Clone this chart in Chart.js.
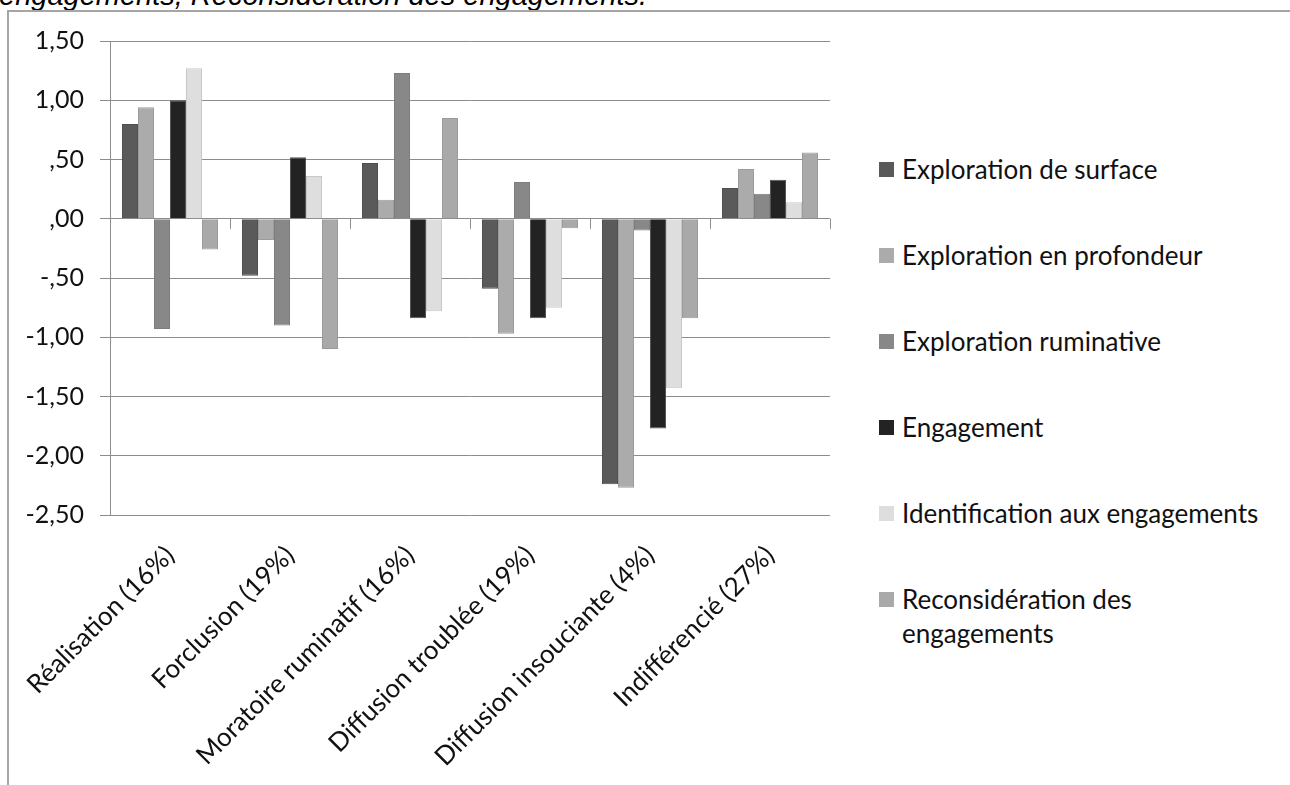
<!DOCTYPE html>
<html>
<head>
<meta charset="utf-8">
<script src="https://cdn.jsdelivr.net/npm/chart.js@4"></script>
<style>
  html, body { margin: 0; padding: 0; background: #fff; overflow: hidden; }
  body { width: 1290px; height: 785px; position: relative; font-family: Lato, "Open Sans", sans-serif; }
  #caption { position: absolute; left: -1px; top: -19px; font: italic 29px "Liberation Sans", Arial, sans-serif; line-height: 29px; color: #000; white-space: nowrap; }
  #cadre { position: absolute; left: 7px; top: 10px; right: -5px; bottom: -5px; border-top: 2px solid #a6a6a6; border-left: 2px solid #a6a6a6; pointer-events: none; }
  #zone { position: absolute; left: 0; top: 0; width: 850px; height: 785px; }
  #legende { position: absolute; left: 879px; top: 152px; margin: 0; padding: 0; list-style: none; }
  #legende li { display: flex; align-items: flex-start; height: 86px; font-size: 26px; line-height: 34px; color: #111; }
  #legende .carre { width: 15px; height: 15px; margin-top: 10px; margin-right: 8px; flex: none; }
  #legende .txt { width: 372px; }
</style>
</head>
<body>
<div id="caption">engagements, Reconsidération des engagements.</div>
<div id="cadre"></div>
<div id="zone"><canvas id="graphe"></canvas></div>
<ul id="legende"></ul>
<script>
// données
var categories = ['Réalisation (16%)', 'Forclusion (19%)', 'Moratoire ruminatif (16%)', 'Diffusion troublée (19%)', 'Diffusion insouciante (4%)', 'Indifférencié (27%)'];
var series = ['Exploration de surface', 'Exploration en profondeur', 'Exploration ruminative', 'Engagement', 'Identification aux engagements', 'Reconsidération des engagements'];
var explorationSurface = [0.80, -0.48, 0.47, -0.59, -2.24, 0.26];
var explorationProfondeur = [0.94, -0.18, 0.16, -0.97, -2.27, 0.42];
var explorationRuminative = [-0.93, -0.90, 1.23, 0.31, -0.10, 0.21];
var engagement = [1.00, 0.52, -0.84, -0.84, -1.77, 0.33];
var identification = [1.27, 0.36, -0.78, -0.75, -1.43, 0.14];
var reconsideration = [-0.26, -1.10, 0.85, -0.08, -0.84, 0.56];
var yTickLabels = ['-2,50', '-2,00', '-1,50', '-1,00', '-,50', ',00', ',50', '1,00', '1,50'];

var couleurs = ['#5a5a5a', '#ababab', '#888888', '#232323', '#dedede', '#a9a9a9'];
var bordures = ['#4f4f4f', '#9c9c9c', '#7d7d7d', '#555555', '#c8c8c8', '#9a9a9a'];
var valeurs = [explorationSurface, explorationProfondeur, explorationRuminative, engagement, identification, reconsideration];

var datasets = [];
for (var n = 0; n < series.length; n++) {
  datasets.push({
    label: series[n],
    data: valeurs[n],
    backgroundColor: couleurs[n],
    borderColor: bordures[n],
    borderWidth: 1,
    categoryPercentage: 0.8,
    barPercentage: 1.0,
  });
}

// petits traits sur la ligne du zéro, entre les catégories
var traitsZero = {
  id: 'traitsZero',
  afterDraw: function (chart) {
    var ctx = chart.ctx;
    var x = chart.scales.x;
    var y0 = chart.scales.y.getPixelForValue(0);
    ctx.save();
    ctx.strokeStyle = '#8c8c8c';
    ctx.lineWidth = 1;
    for (var i = 0; i <= categories.length; i++) {
      var px = Math.round(x.getPixelForValue(i - 0.5)) + 0.5;
      ctx.beginPath();
      ctx.moveTo(px, y0);
      ctx.lineTo(px, y0 + 10);
      ctx.stroke();
    }
    ctx.restore();
  },
};

var ctx = document.getElementById('graphe').getContext('2d');
var myChart = new Chart(ctx, {
  type: 'bar',
  data: { labels: categories, datasets: datasets },
  plugins: [traitsZero],
  options: {
    responsive: true,
    maintainAspectRatio: false,
    animation: false,
    layout: { padding: { top: 41, right: 20, bottom: 0, left: 0 } },
    plugins: { legend: { display: false }, tooltip: { enabled: false } },
    scales: {
      x: {
        grid: { display: false },
        border: { display: false },
        ticks: {
          minRotation: 45, maxRotation: 45, autoSkip: false, padding: 17,
          color: '#111', font: { family: 'Lato', size: 26 },
        },
        afterFit: function (s) { s.height = 270; s.paddingLeft = 0; s.paddingRight = 0; },
      },
      y: {
        min: -2.5, max: 1.5,
        ticks: {
          stepSize: 0.5, padding: 16, color: '#111', font: { family: 'Lato', size: 25 },
          callback: function (v, i) { return yTickLabels[i]; },
        },
        grid: { color: '#8c8c8c', lineWidth: 1, tickLength: 10, tickColor: '#8c8c8c' },
        border: { color: '#8c8c8c', width: 1 },
        afterFit: function (s) { s.width = 110; },
      },
    },
  },
});

// légende à droite
var ul = document.getElementById('legende');
myChart.data.datasets.forEach(function (d) {
  var li = document.createElement('li');
  var c = document.createElement('span');
  c.className = 'carre';
  c.style.background = d.backgroundColor;
  var t = document.createElement('span');
  t.className = 'txt';
  t.textContent = d.label;
  li.appendChild(c);
  li.appendChild(t);
  ul.appendChild(li);
});
</script>
</body>
</html>
